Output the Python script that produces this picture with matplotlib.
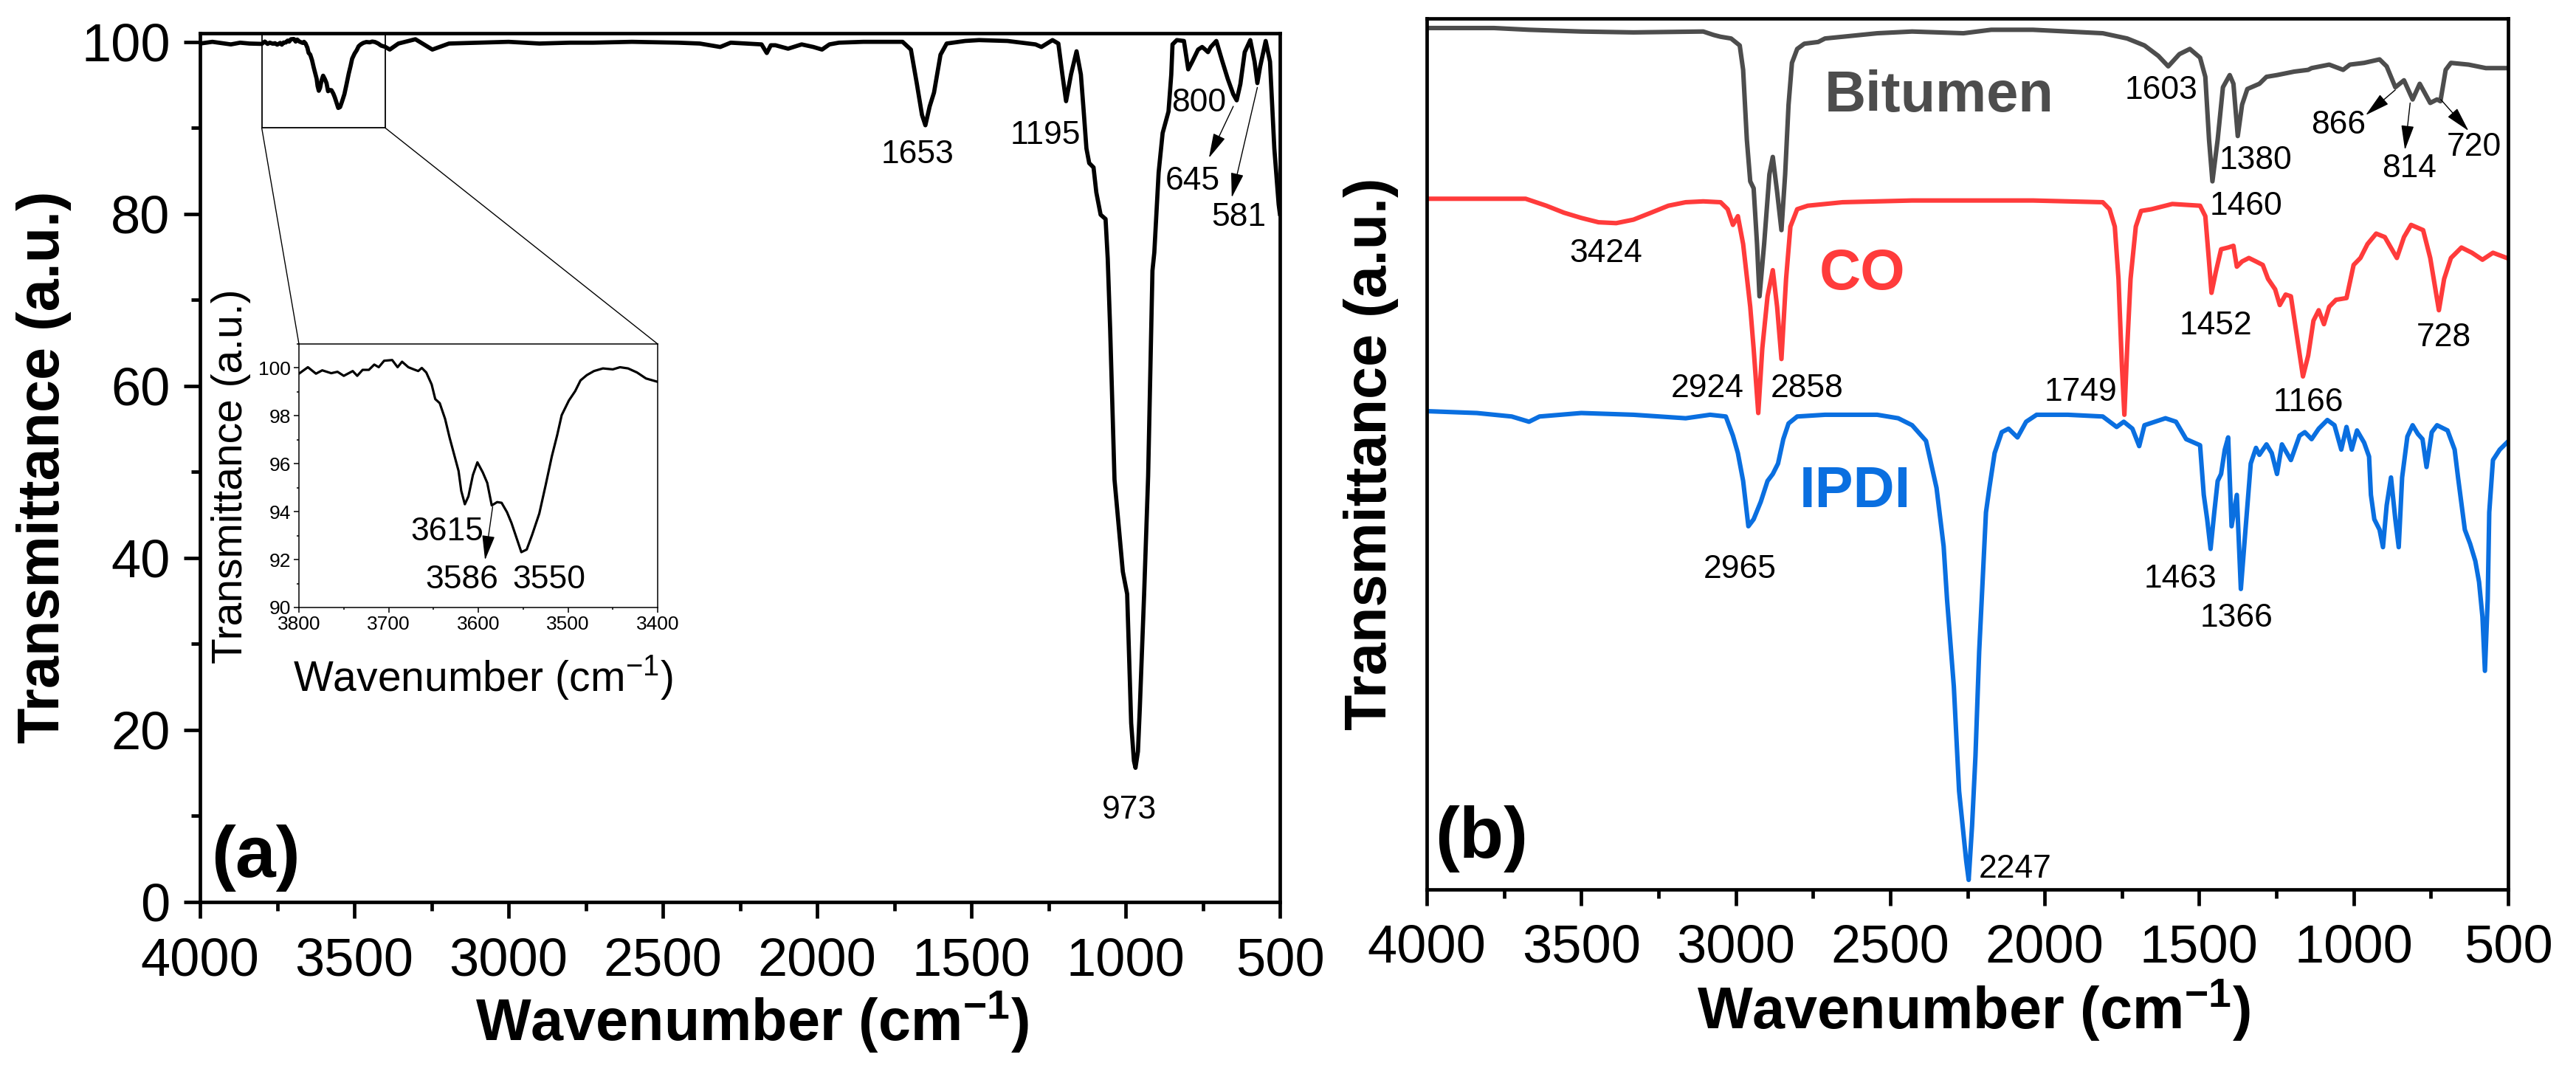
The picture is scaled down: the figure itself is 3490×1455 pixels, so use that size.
import matplotlib
matplotlib.use('Agg')
import matplotlib.pyplot as plt
from matplotlib.patches import Rectangle, ConnectionPatch
from matplotlib.ticker import MultipleLocator

plt.rcParams['font.family'] = ['Liberation Sans', 'DejaVu Sans']
plt.rcParams['mathtext.default'] = 'regular'

# ---------------- data: panel (a) single spectrum ----------------
wn_a = [4000, 3960, 3930, 3900, 3870, 3840, 3800, 3790, 3781, 3774, 3764, 3757,
        3750, 3740, 3735, 3729, 3722, 3716, 3711, 3705, 3696, 3690, 3685, 3678,
        3672, 3667, 3663, 3658, 3652, 3648, 3643, 3637, 3632, 3626, 3622, 3619,
        3615, 3611, 3606, 3601, 3595, 3590, 3585, 3579, 3574, 3568, 3563, 3557,
        3552, 3546, 3540, 3532, 3525, 3518, 3512, 3507, 3499, 3492, 3486, 3479,
        3471, 3461, 3450, 3442, 3433, 3423, 3413, 3400, 3385, 3357, 3302, 3247,
        3193, 3100, 3000, 2900, 2800, 2726, 2600, 2451, 2380, 2314, 2280, 2231,
        2180, 2163, 2150, 2135, 2094, 2050, 2012, 1984, 1960, 1929, 1850, 1792,
        1723, 1696, 1677, 1660, 1649, 1635, 1621, 1600, 1580, 1520, 1475, 1383,
        1292, 1273, 1237, 1218, 1205, 1193, 1177, 1159, 1145, 1136, 1127, 1118,
        1104, 1095, 1081, 1065, 1058, 1050, 1036, 1009, 995, 982, 973, 968,
        960, 954, 940, 927, 913, 907, 893, 880, 861, 852, 848, 834,
        811, 797, 784, 765, 752, 742, 733, 724, 706, 688, 669, 651,
        640, 628, 614, 596, 582, 573, 564, 546, 532, 518, 504, 500]
t_a = [99.8, 100.0, 99.85, 99.7, 99.9, 99.8, 99.76, 100.03, 99.76, 99.9, 99.78, 99.84,
       99.67, 99.87, 99.67, 99.92, 99.92, 100.14, 100.03, 100.3, 100.33, 100.03, 100.26, 100.03,
       99.94, 99.87, 100.0, 99.81, 99.31, 98.7, 98.53, 97.87, 97.09, 96.26, 95.7, 94.87,
       94.31, 94.64, 95.53, 96.06, 95.64, 95.2, 94.26, 94.4, 94.37, 93.98, 93.53, 92.87,
       92.31, 92.42, 93.03, 93.92, 95.09, 96.31, 97.2, 98.03, 98.64, 99.03, 99.48, 99.7,
       99.87, 99.98, 99.94, 100.03, 99.98, 99.81, 99.56, 99.42, 99.1, 99.8, 100.3, 99.1,
       99.8, 99.9, 100.0, 99.8, 99.9, 99.9, 100.0, 99.9, 99.8, 99.4, 99.9, 99.8,
       99.7, 98.7, 99.6, 99.6, 99.2, 99.7, 99.4, 99.1, 99.7, 99.9, 100.0, 100.0,
       100.0, 99.1, 95.2, 91.5, 90.3, 92.5, 94.1, 98.5, 99.8, 100.1, 100.2, 100.1,
       99.7, 99.4, 100.2, 99.8, 96.2, 93.1, 96.2, 98.9, 96.2, 92.0, 87.6, 85.9,
       85.4, 82.5, 79.9, 79.4, 74.8, 66.5, 49.1, 38.4, 35.8, 20.8, 16.4, 15.6,
       17.5, 22.5, 35.8, 49.5, 73.4, 75.5, 84.8, 89.4, 91.9, 96.2, 99.7, 100.2,
       100.1, 96.8, 97.7, 99.1, 99.4, 99.1, 98.8, 99.4, 100.1, 97.9, 95.7, 93.9,
       93.2, 95.1, 98.8, 100.2, 97.7, 95.2, 97.1, 100.1, 97.7, 87.6, 81.1, 80.0]

peaks_a = [('1653', 1675, 87.3), ('1195', 1261, 89.5), ('800', 763, 93.3),
           ('645', 782, 84.2), ('581', 634, 80.0), ('973', 988, 11.1)]
arrows_a = [((651, 92.5), (730, 86.5)), ((573, 94.7), (656, 81.9))]
peaks_inset = [('3615', 3635, 93.3), ('3586', 3618, 91.3), ('3550', 3521, 91.3)]
arrows_inset = [((3584, 94.2), (3592.5, 91.98))]

# ---------------- data: panel (b) three offset spectra ----------------
wn_bit = [3990, 3782, 3669, 3500, 3331, 3105, 3071, 3049, 3015, 2987, 2976, 2964,
          2953, 2942, 2931, 2923, 2908, 2891, 2880, 2866, 2852, 2840, 2829, 2818,
          2801, 2778, 2733, 2711, 2654, 2542, 2429, 2263, 2173, 2038, 1925, 1812,
          1733, 1677, 1632, 1600, 1564, 1530, 1497, 1480, 1468, 1457, 1440, 1423,
          1401, 1389, 1375, 1361, 1344, 1305, 1282, 1248, 1192, 1147, 1136, 1079,
          1034, 1012, 966, 916, 893, 865, 837, 809, 786, 752, 730, 719,
          702, 685, 628, 572, 504]
y_bit = [98.9, 98.9, 98.7, 98.5, 98.4, 98.5, 98.1, 97.9, 97.7, 96.9, 94.1, 86.1,
         81.3, 80.5, 74.1, 68.1, 74.1, 82.1, 84.1, 80.1, 75.7, 82.1, 90.1, 94.9,
         96.5, 97.1, 97.3, 97.7, 97.9, 98.3, 98.5, 98.3, 98.7, 98.7, 98.5, 98.3,
         97.7, 96.9, 95.7, 94.5, 95.9, 96.5, 95.5, 93.3, 86.1, 81.3, 86.1, 92.1,
         93.5, 92.5, 86.5, 90.1, 91.9, 92.5, 93.3, 93.5, 93.9, 94.1, 94.3, 94.7,
         94.1, 94.7, 94.9, 95.3, 94.5, 92.1, 92.9, 90.7, 92.5, 90.3, 90.7, 90.5,
         94.1, 94.9, 94.7, 94.3, 94.3]

wn_co = [3990, 3838, 3680, 3613, 3556, 3500, 3444, 3387, 3331, 3274, 3218, 3162,
         3105, 3049, 3026, 3009, 2993, 2976, 2953, 2942, 2927, 2914, 2897, 2880,
         2866, 2852, 2837, 2823, 2801, 2767, 2654, 2429, 2263, 2038, 1812, 1790,
         1773, 1761, 1750, 1742, 1733, 1722, 1705, 1688, 1654, 1587, 1497, 1480,
         1468, 1460, 1446, 1429, 1406, 1389, 1378, 1361, 1339, 1316, 1294, 1277,
         1254, 1239, 1220, 1203, 1186, 1164, 1147, 1130, 1113, 1096, 1079, 1057,
         1023, 1000, 978, 955, 927, 899, 860, 837, 814, 775, 752, 724,
         707, 685, 651, 617, 583, 549, 504]
y_co = [79.3, 79.3, 79.3, 78.5, 77.7, 77.1, 76.6, 76.5, 76.9, 77.7, 78.5, 78.9,
        79.0, 78.9, 78.1, 76.3, 77.3, 74.1, 66.9, 62.1, 54.7, 62.1, 68.1, 71.1,
        66.9, 60.9, 70.1, 76.1, 78.1, 78.5, 78.9, 79.1, 79.1, 79.1, 78.9, 78.1,
        76.1, 70.1, 60.1, 54.5, 62.1, 70.1, 76.1, 77.9, 78.1, 78.7, 78.5, 77.3,
        72.1, 68.5, 70.9, 73.5, 73.7, 73.9, 71.5, 72.1, 72.5, 72.1, 71.7, 70.1,
        68.9, 67.1, 68.3, 68.1, 64.1, 58.9, 61.3, 65.3, 66.5, 64.9, 66.9, 67.7,
        67.9, 71.7, 72.5, 74.1, 75.3, 74.9, 72.5, 74.9, 76.3, 75.7, 72.5, 66.5,
        70.1, 72.5, 73.7, 73.1, 72.3, 73.1, 72.5]

wn_ipdi = [3990, 3838, 3725, 3669, 3635, 3500, 3331, 3162, 3083, 3032, 3009, 2993,
           2976, 2959, 2942, 2919, 2897, 2880, 2863, 2846, 2829, 2801, 2711, 2542,
           2474, 2429, 2384, 2350, 2327, 2316, 2294, 2277, 2254, 2246, 2235, 2224,
           2212, 2201, 2190, 2179, 2162, 2139, 2117, 2088, 2060, 2026, 1925, 1812,
           1767, 1744, 1716, 1694, 1677, 1643, 1609, 1575, 1542, 1497, 1485, 1474,
           1463, 1451, 1440, 1429, 1417, 1406, 1395, 1378, 1365, 1350, 1333, 1316,
           1305, 1282, 1265, 1248, 1232, 1203, 1175, 1158, 1136, 1113, 1085, 1062,
           1040, 1023, 1006, 989, 966, 950, 944, 933, 916, 905, 893, 879,
           865, 854, 843, 826, 809, 792, 777, 764, 747, 730, 696, 673,
           662, 640, 623, 606, 594, 583, 575, 566, 561, 549, 527, 504]
y_ipdi = [54.9, 54.7, 54.3, 53.7, 54.3, 54.7, 54.5, 54.1, 54.5, 54.3, 52.1, 50.1,
          46.9, 41.7, 42.5, 44.5, 46.9, 47.7, 48.9, 51.7, 53.5, 54.3, 54.5, 54.5,
          54.1, 53.3, 51.5, 46.1, 39.4, 33.3, 23.3, 11.3, 3.3, 1.1, 7.3, 15.3,
          27.3, 35.3, 43.3, 46.1, 50.1, 52.5, 52.9, 51.9, 53.7, 54.5, 54.5, 54.3,
          53.1, 53.7, 52.9, 50.9, 53.3, 53.7, 54.1, 53.7, 51.7, 51.0, 45.3, 42.5,
          39.1, 43.3, 46.9, 47.7, 50.5, 51.9, 41.7, 45.3, 34.5, 41.3, 48.9, 50.7,
          49.9, 51.1, 50.1, 47.7, 51.1, 49.3, 52.1, 52.5, 51.7, 52.9, 53.9, 53.3,
          50.5, 53.1, 50.5, 52.7, 51.3, 49.7, 45.3, 42.5, 41.3, 39.3, 44.1, 47.3,
          42.5, 39.3, 47.3, 52.0, 53.3, 52.3, 51.7, 48.5, 52.5, 53.3, 52.7, 50.5,
          47.3, 41.3, 39.7, 37.7, 35.3, 31.3, 25.1, 33.3, 43.3, 49.3, 50.5, 51.3]

peaks_b = [('3424', 3420, 73.4), ('2924', 3092, 57.9), ('2858', 2770, 57.9),
           ('1603', 1622, 92.1), ('1380', 1317, 84.1), ('1460', 1349, 78.8),
           ('866', 1048, 88.1), ('814', 821, 83.1), ('720', 611, 85.6),
           ('1749', 1883, 57.5), ('1452', 1446, 65.1), ('1166', 1146, 56.3),
           ('728', 708, 63.7), ('2965', 2987, 37.1), ('1463', 1561, 36.0),
           ('1366', 1380, 31.5), ('2247', 2095, 2.7)]
arrows_b = [((865, 91.8), (961, 88.9)), ((817, 90.3), (834, 84.9)),
            ((718, 90.7), (628, 87.1))]

names_b = ['Bitumen', 'CO', 'IPDI']
name_pos = [(2712, 89.3), (2729, 68.9), (2794, 43.9)]
colors_b = ['#4d4d4d', '#ff3b3b', '#0a6fe0']

# ---------------- figure ----------------
W, H = 3490, 1455
fig = plt.figure(figsize=(W / 100, H / 100), dpi=100)


def box(l, t, r, b):
    return [l / W, 1 - b / H, (r - l) / W, (b - t) / H]


arrow_kw = dict(arrowstyle='-|>,head_length=0.7,head_width=0.18', lw=1.0,
                color='black', mutation_scale=30, shrinkA=0, shrinkB=0)


def style_main(ax, pad_x):
    for s in ax.spines.values():
        s.set_linewidth(3.4)
    ax.tick_params(which='both', direction='out', top=False, right=False,
                   width=3.4, labelsize=52)
    ax.tick_params(which='major', length=16)
    ax.tick_params(which='minor', length=8.5)
    ax.tick_params(axis='x', pad=pad_x)
    ax.set_xlim(4000, 500)
    ax.xaxis.set_major_locator(MultipleLocator(500))
    ax.xaxis.set_minor_locator(MultipleLocator(250))


# panel (a)
ax_a = fig.add_axes(box(271, 45, 1734, 1222))
ax_a.plot(wn_a, t_a, color='black', lw=4.1, solid_joinstyle='round')
style_main(ax_a, 18.5)
ax_a.tick_params(axis='y', pad=13)
ax_a.set_ylim(0, 101)
ax_a.yaxis.set_major_locator(MultipleLocator(20))
ax_a.yaxis.set_minor_locator(MultipleLocator(10))
for txt, x, y in peaks_a:
    ax_a.text(x, y, txt, fontsize=32, ha='center', va='center_baseline')
for tail, tip in arrows_a:
    ax_a.annotate('', xy=tip, xytext=tail, arrowprops=arrow_kw)
ax_a.text(0.0103, 0.029, '(a)', transform=ax_a.transAxes, fontsize=71,
          fontweight='bold', ha='left', va='baseline')

# inset
axins = fig.add_axes(box(405, 466, 891, 823))
axins.plot(wn_a, t_a, color='black', lw=2.3, solid_joinstyle='round')
axins.set_xlim(3800, 3400)
axins.set_ylim(90, 101)
for s in axins.spines.values():
    s.set_linewidth(1.1)
axins.tick_params(which='both', direction='out', top=False, right=False,
                  width=1.1, labelsize=19, pad=3)
axins.tick_params(which='major', length=5)
axins.tick_params(which='minor', length=2.5)
axins.xaxis.set_major_locator(MultipleLocator(100))
axins.xaxis.set_minor_locator(MultipleLocator(50))
axins.yaxis.set_major_locator(MultipleLocator(2))
axins.yaxis.set_minor_locator(MultipleLocator(1))
for txt, x, y in peaks_inset:
    axins.text(x, y, txt, fontsize=32, ha='center', va='center_baseline')
for tail, tip in arrows_inset:
    axins.annotate('', xy=tip, xytext=tail, arrowprops=arrow_kw)

ax_a.add_patch(Rectangle((3400, 90), 400, 11, fill=False, ec='black', lw=1.3,
                         clip_on=False))
for xa, xb in [(3800, 0), (3400, 1)]:
    con = ConnectionPatch(xyA=(xa, 90), coordsA=ax_a.transData,
                          xyB=(xb, 1), coordsB=axins.transAxes,
                          color='black', lw=1.0)
    fig.add_artist(con)

fig.text(654 / W, 1 - 936 / H, 'Wavenumber (cm$^{-1}$)', fontsize=41,
         ha='center', va='baseline')
fig.text(313 / W, 1 - 645 / H, 'Transmittance (a.u.)', fontsize=41,
         rotation=90, ha='center', va='center')

# panel (b)
ax_b = fig.add_axes(box(1933, 25, 3398, 1205))
for wn, yy, c in zip([wn_bit, wn_co, wn_ipdi], [y_bit, y_co, y_ipdi], colors_b):
    ax_b.plot(wn, yy, color=c, lw=4.4, solid_joinstyle='round')
style_main(ax_b, 17.5)
ax_b.set_ylim(0, 100)
ax_b.set_yticks([])
for txt, x, y in peaks_b:
    ax_b.text(x, y, txt, fontsize=32, ha='center', va='center_baseline')
for tail, tip in arrows_b:
    ax_b.annotate('', xy=tip, xytext=tail, arrowprops=arrow_kw)
for name, (x, y), c in zip(names_b, name_pos, colors_b):
    ax_b.text(x, y, name, color=c, fontsize=56, fontweight='bold',
              ha='left', va='baseline')
ax_b.text(0.0075, 0.0364, '(b)', transform=ax_b.transAxes, fontsize=71,
          fontweight='bold', ha='left', va='baseline')

# axis titles
for xc, yb in [(1019, 1410), (2674, 1394)]:
    fig.text(xc / W, 1 - yb / H, 'Wavenumber (cm$^{-1}$)', fontsize=57,
             fontweight='bold', ha='center', va='baseline')
for xc, yc in [(60, 633), (1858, 615)]:
    fig.text(xc / W, 1 - yc / H, 'Transmittance (a.u.)', fontsize=57,
             fontweight='bold', rotation=90, ha='center', va='center')

fig.savefig('out.png', dpi=100)
